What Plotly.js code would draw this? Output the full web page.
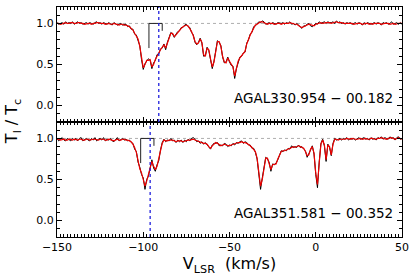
<!DOCTYPE html>
<html>
<head>
<meta charset="utf-8">
<script src="https://cdn.plot.ly/plotly-3.0.1.min.js"></script>
<style>html,body{margin:0;padding:0;background:#fff;}#chart{width:416px;height:278px;}</style>
</head>
<body>
<div id="chart"></div>
<script>
// velocity channels (km/s)
const velocity = [
-150,-149,-148,-147,-146,-145,-144,-143,-142,-141,
-140,-139,-138,-137,-136,-135,-134,-133,-132,-131,
-130,-129,-128,-127,-126,-125,-124,-123,-122,-121,
-120,-119,-118,-117,-116,-115,-114,-113,-112,-111,
-110,-109,-108,-107,-106,-105,-104,-103,-102,-101,
-100,-99,-98,-97,-96,-95,-94,-93,-92,-91,
-90,-89,-88,-87,-86,-85,-84,-83,-82,-81,
-80,-79,-78,-77,-76,-75,-74,-73,-72,-71,
-70,-69,-68,-67,-66,-65,-64,-63,-62,-61,
-60,-59,-58,-57,-56,-55,-54,-53,-52,-51,
-50,-49,-48,-47,-46,-45,-44,-43,-42,-41,
-40,-39,-38,-37,-36,-35,-34,-33,-32,-31,
-30,-29,-28,-27,-26,-25,-24,-23,-22,-21,
-20,-19,-18,-17,-16,-15,-14,-13,-12,-11,
-10,-9,-8,-7,-6,-5,-4,-3,-2,-1,
0,1,2,3,4,5,6,7,8,9,
10,11,12,13,14,15,16,17,18,19,
20,21,22,23,24,25,26,27,28,29,
30,31,32,33,34,35,36,37,38,39,
40,41,42,43,44,45,46,47,48,49,
50];

// AGAL330.954-00.182 : observed (black) and fit (red)
const obs330 = [
1.01,0.99,1.00,1.01,0.99,1.02,1.00,1.01,1.00,1.02,
0.99,1.01,1.02,1.00,1.01,0.99,1.00,1.01,0.99,1.01,
1.00,0.99,1.01,1.02,1.00,1.01,0.99,1.01,1.00,0.99,
1.01,1.00,0.98,1.01,1.00,0.98,0.99,1.00,0.98,0.99,
0.99,0.96,0.97,0.93,0.93,0.87,0.86,0.79,0.73,0.56,
0.44,0.51,0.54,0.57,0.55,0.45,0.52,0.55,0.62,0.63,
0.69,0.70,0.75,0.68,0.77,0.83,0.89,0.87,0.83,0.87,
0.90,0.91,0.95,0.95,0.98,0.99,0.96,0.95,0.89,0.86,
0.77,0.74,0.77,0.82,0.76,0.60,0.61,0.71,0.67,0.56,
0.45,0.54,0.66,0.79,0.77,0.73,0.59,0.52,0.53,0.59,
0.53,0.49,0.48,0.33,0.45,0.53,0.59,0.60,0.64,0.65,
0.76,0.80,0.87,0.89,0.96,0.97,1.00,1.02,1.01,1.03,
1.02,0.99,1.00,1.01,0.99,1.01,1.00,0.99,1.01,1.00,
1.00,1.01,0.99,1.01,1.00,1.02,0.99,1.00,0.98,1.00,
0.98,0.95,0.94,0.97,0.97,0.99,1.00,0.97,0.96,0.98,
1.00,0.99,1.02,1.00,1.01,1.02,1.00,1.02,1.01,1.01,
1.02,1.00,1.03,1.01,1.02,1.00,1.01,0.99,1.01,1.00,
1.01,0.99,1.00,1.01,0.99,1.01,1.00,0.98,1.01,0.99,
1.01,1.00,0.99,1.00,1.01,0.99,1.01,1.00,0.98,1.01,
1.00,1.01,0.99,1.00,1.02,0.99,1.00,1.01,0.99,1.01,
0.99];
const fit330 = [
1.00,1.00,0.99,1.00,1.00,1.01,1.00,1.00,1.01,1.01,
1.00,1.00,1.01,1.01,1.00,1.00,0.99,1.00,1.00,1.00,
0.99,1.00,1.00,1.01,1.01,1.00,1.00,1.00,0.99,1.00,
1.00,0.99,0.99,1.00,0.99,0.99,0.98,0.99,0.99,0.98,
0.98,0.97,0.96,0.94,0.92,0.88,0.85,0.81,0.72,0.58,
0.46,0.50,0.55,0.55,0.56,0.47,0.50,0.56,0.61,0.64,
0.68,0.71,0.74,0.70,0.76,0.84,0.88,0.88,0.84,0.86,
0.89,0.92,0.94,0.96,0.97,0.98,0.97,0.94,0.90,0.85,
0.78,0.75,0.76,0.81,0.77,0.62,0.60,0.70,0.68,0.57,
0.47,0.53,0.67,0.78,0.78,0.72,0.60,0.53,0.52,0.58,
0.54,0.50,0.47,0.36,0.44,0.54,0.58,0.61,0.63,0.66,
0.75,0.81,0.86,0.90,0.95,0.98,0.99,1.01,1.02,1.02,
1.01,1.00,0.99,1.00,1.00,1.00,0.99,1.00,1.00,1.00,
0.99,1.00,1.00,1.00,1.00,1.01,1.00,0.99,0.99,0.99,
0.97,0.96,0.95,0.96,0.98,0.98,0.99,0.98,0.97,0.97,
0.99,1.00,1.01,1.01,1.00,1.01,1.01,1.01,1.01,1.00,
1.01,1.01,1.02,1.01,1.01,1.01,1.00,1.00,1.00,1.00,
1.00,1.00,0.99,1.00,1.00,1.00,1.00,0.99,1.00,1.00,
1.00,0.99,1.00,0.99,1.00,1.00,1.00,1.00,0.99,1.00,
1.00,1.00,1.00,0.99,1.00,1.00,0.99,1.00,1.00,1.00,
1.00];

// AGAL351.581-00.352 : observed (black) and fit (red)
const obs351 = [
1.00,0.97,0.99,1.01,0.98,0.97,1.00,0.99,0.97,1.00,
0.98,1.00,0.97,1.00,1.01,0.97,0.99,1.00,0.98,0.97,
1.00,0.98,1.01,0.97,0.99,1.00,0.98,1.01,0.97,0.99,
0.98,1.00,0.97,0.96,0.99,1.01,0.97,0.99,1.00,0.98,
0.99,0.97,0.98,0.95,0.94,0.87,0.84,0.71,0.65,0.56,
0.52,0.38,0.50,0.54,0.64,0.74,0.64,0.60,0.68,0.73,
0.86,0.95,0.99,0.96,0.98,0.97,1.00,0.97,0.98,0.95,
0.98,0.96,0.98,0.95,0.98,0.96,0.99,0.97,1.00,1.01,
0.99,0.96,0.97,0.94,0.96,0.93,0.95,0.92,0.89,0.87,
0.92,0.94,0.94,0.95,0.91,0.92,0.91,0.94,0.93,0.90,
0.92,0.91,0.94,0.92,0.95,0.94,0.96,0.97,0.94,0.96,
0.95,0.92,0.92,0.88,0.88,0.83,0.75,0.56,0.38,0.52,
0.65,0.77,0.75,0.71,0.60,0.69,0.68,0.70,0.74,0.81,
0.85,0.84,0.86,0.85,0.88,0.87,0.91,0.89,0.90,0.89,
0.92,0.89,0.90,0.87,0.85,0.77,0.81,0.86,0.91,0.81,
0.56,0.40,0.71,0.94,0.99,0.91,0.72,0.93,0.89,0.79,
0.94,1.00,0.98,0.99,1.00,0.98,1.00,0.99,1.01,0.98,
1.00,0.99,1.00,0.98,1.00,1.01,0.99,1.00,1.01,0.99,
1.00,0.98,1.01,0.99,1.00,0.98,1.01,1.00,1.02,0.99,
1.01,1.00,0.99,1.02,1.00,1.01,0.98,1.01,1.02,0.99,
1.00];
const fit351 = [
0.99,0.99,0.98,0.99,0.99,0.98,0.98,0.99,0.98,0.98,
0.99,0.98,0.98,0.99,0.99,0.98,0.98,0.99,0.99,0.98,
0.99,0.99,0.99,0.98,0.98,0.99,0.99,0.99,0.98,0.98,
0.99,0.98,0.98,0.97,0.98,0.99,0.98,0.98,0.99,0.99,
0.98,0.98,0.97,0.96,0.93,0.89,0.83,0.73,0.63,0.58,
0.50,0.42,0.48,0.56,0.62,0.72,0.66,0.62,0.66,0.74,
0.85,0.94,0.98,0.97,0.97,0.98,0.98,0.98,0.97,0.96,
0.97,0.97,0.97,0.96,0.97,0.97,0.98,0.98,0.99,0.99,
0.98,0.97,0.96,0.95,0.95,0.94,0.94,0.93,0.90,0.88,
0.91,0.93,0.95,0.94,0.92,0.91,0.92,0.93,0.92,0.91,
0.91,0.92,0.93,0.93,0.94,0.95,0.95,0.96,0.95,0.95,
0.94,0.93,0.91,0.89,0.87,0.84,0.76,0.58,0.42,0.50,
0.66,0.76,0.76,0.70,0.62,0.68,0.69,0.69,0.75,0.80,
0.84,0.85,0.85,0.86,0.87,0.88,0.90,0.90,0.89,0.90,
0.91,0.90,0.89,0.88,0.84,0.79,0.80,0.87,0.90,0.82,
0.58,0.44,0.70,0.93,0.98,0.92,0.74,0.92,0.90,0.80,
0.93,0.99,0.99,0.98,0.99,0.99,0.99,0.99,1.00,0.99,
0.99,1.00,0.99,0.99,0.99,1.00,1.00,0.99,1.00,1.00,
0.99,0.99,1.00,1.00,0.99,0.99,1.00,1.00,1.01,1.00,
1.00,0.99,1.00,1.01,1.01,1.00,0.99,1.00,1.01,1.00,
0.99];

// hyperfine-component markers: velocities and relative depths
const hfsVel330 = [-96.7, -89.0];
const hfsVel351 = [-101.5, -93.8];
const hfsDepth = [0.70, 0.91];
// systemic velocities (blue dotted lines)
const vsys330 = -91;
const vsys351 = -96;
const sourceNames = ["AGAL330.954 \u2212 00.182", "AGAL351.581 \u2212 00.352"];

const FONT = "DejaVu Sans, Liberation Sans, sans-serif";

function bracket(v, xa, ya) {
  return {x: [v[0], v[0], v[1], v[1]], y: [hfsDepth[0], 1, 1, hfsDepth[1]],
    xaxis: xa, yaxis: ya, mode: 'lines', line: {color: '#222', width: 1}, hoverinfo: 'skip', showlegend: false};
}
function vline(v, xa, ya) {
  return {x: [v, v], y: [-0.2, 1.2], xaxis: xa, yaxis: ya, mode: 'lines',
    line: {color: '#2020dd', width: 1.3, dash: 'dot'}, showlegend: false};
}
function hline(xa, ya) {
  return {x: [velocity[0], velocity[velocity.length - 1]], y: [1, 1], xaxis: xa, yaxis: ya, mode: 'lines',
    line: {color: '#999', width: 0.8, dash: 'dot'}, showlegend: false};
}
function emptyTrace(xa, ya) {
  return {x: [null], y: [null], xaxis: xa, yaxis: ya, mode: 'lines', showlegend: false, hoverinfo: 'skip'};
}

const traces = [
  hline('x2', 'y2'),
  {x: velocity, y: obs330, xaxis: 'x2', yaxis: 'y2', mode: 'lines', line: {color: '#000', width: 1}, showlegend: false},
  {x: velocity, y: fit330, xaxis: 'x2', yaxis: 'y2', mode: 'lines', line: {color: '#ee0000', width: 1.2}, showlegend: false},
  bracket(hfsVel330, 'x2', 'y2'),
  vline(vsys330, 'x2', 'y2'),
  hline('x', 'y'),
  {x: velocity, y: obs351, xaxis: 'x', yaxis: 'y', mode: 'lines', line: {color: '#000', width: 1}, showlegend: false},
  {x: velocity, y: fit351, xaxis: 'x', yaxis: 'y', mode: 'lines', line: {color: '#ee0000', width: 1.2}, showlegend: false},
  bracket(hfsVel351, 'x', 'y'),
  vline(vsys351, 'x', 'y'),
  emptyTrace('x3', 'y3'),
  emptyTrace('x4', 'y4')
];

const axCommon = {
  showgrid: false, zeroline: false, showline: true, linecolor: '#000', linewidth: 1,
  mirror: 'ticks', ticks: 'inside', ticklen: 5, tickwidth: 1, tickcolor: '#000',
  tickfont: {family: FONT, size: 11, color: '#000'}
};

const xBase = Object.assign({}, axCommon, {
  range: [-150, 50], dtick: 50, tick0: 0, autorange: false,
  minor: {ticks: 'inside', dtick: 2, ticklen: 3, tickcolor: '#000', tickwidth: 1, showgrid: false}
});
const yBase = Object.assign({}, axCommon, {
  range: [-0.2, 1.2], dtick: 0.5, tick0: 0, tickformat: '.1f', autorange: false,
  minor: {ticks: 'inside', dtick: 0.1, ticklen: 3, tickcolor: '#000', tickwidth: 1, showgrid: false}
});
// overlay copies so that minor ticks also appear on the mirrored sides
const xTop = Object.assign({}, xBase, {showline: false, mirror: false, showticklabels: false, side: 'top'});
const yRight = Object.assign({}, yBase, {showline: false, mirror: false, showticklabels: false, side: 'right'});

const layout = {
  width: 416, height: 278,
  margin: {l: 57, r: 14, t: 7, b: 41},
  paper_bgcolor: '#fff', plot_bgcolor: '#fff',
  font: {family: FONT, color: '#000'},
  xaxis: Object.assign({}, xBase, {anchor: 'y',
    title: {text: 'V<sub>LSR</sub>\u00a0\u00a0(km/s)', font: {family: FONT, size: 16, color: '#000'}, standoff: 4}}),
  xaxis2: Object.assign({}, xBase, {anchor: 'y2', matches: 'x', showticklabels: false}),
  xaxis3: Object.assign({}, xTop, {anchor: 'y3', overlaying: 'x'}),
  xaxis4: Object.assign({}, xTop, {anchor: 'y4', overlaying: 'x2'}),
  yaxis: Object.assign({}, yBase, {domain: [0, 0.5], anchor: 'x'}),
  yaxis2: Object.assign({}, yBase, {domain: [0.5, 1], anchor: 'x2'}),
  yaxis3: Object.assign({}, yRight, {anchor: 'x3', overlaying: 'y'}),
  yaxis4: Object.assign({}, yRight, {anchor: 'x4', overlaying: 'y2'}),
  annotations: [
    {text: 'T<sub>l</sub> / T<sub>c</sub>', xref: 'paper', yref: 'paper', x: -0.13, y: 0.5,
     xanchor: 'center', yanchor: 'middle', textangle: -90, showarrow: false,
     font: {family: FONT, size: 16, color: '#000'}},
    {text: sourceNames[0], xref: 'paper', yref: 'y2 domain', x: 0.98, y: 0.21,
     xanchor: 'right', yanchor: 'middle', showarrow: false, font: {family: FONT, size: 13.5, color: '#000'}},
    {text: sourceNames[1], xref: 'paper', yref: 'y domain', x: 0.98, y: 0.21,
     xanchor: 'right', yanchor: 'middle', showarrow: false, font: {family: FONT, size: 13.5, color: '#000'}}
  ]
};

Plotly.newPlot('chart', traces, layout, {staticPlot: true, displayModeBar: false});
</script>
</body>
</html>
